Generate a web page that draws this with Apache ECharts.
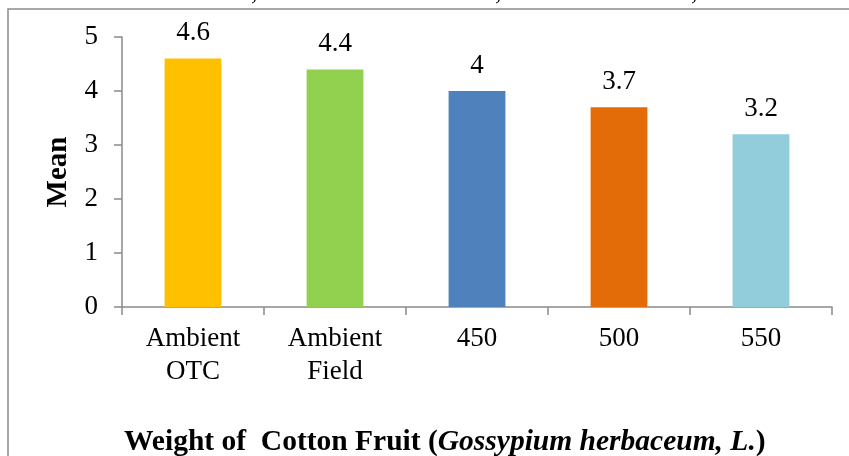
<!DOCTYPE html>
<html>
<head>
<meta charset="utf-8">
<script src="https://cdn.jsdelivr.net/npm/echarts@6/dist/echarts.min.js"></script>
<style>
  html, body { margin: 0; padding: 0; background: #fff; }
  #chart { width: 849px; height: 456px; }
</style>
</head>
<body>
<div id="chart"></div>
<script>
// categories and values
var categories = ['Ambient\nOTC', 'Ambient\nField', '450', '500', '550']
var means = [4.6, 4.4, 4, 3.7, 3.2]
var barColors = ['#FFC000', '#92D050', '#4F81BD', '#E36C09', '#92CDDC']
var yTicks = { min: 0, max: 5, interval: 1 }

var serif = '"Liberation Serif", "Times New Roman", serif'
var axisGray = '#8a8a8a'

var chart = echarts.init(document.getElementById('chart'))

chart.setOption({
  animation: false,
  backgroundColor: '#fff',
  title: {
    text: '{a|Weight of  Cotton Fruit (}{b|Gossypium herbaceum, L.}{a|)}',
    left: 119,
    top: 422,
    textStyle: {
      rich: {
        a: { fontFamily: serif, fontSize: 29.5, fontWeight: 'bold', color: '#000' },
        b: { fontFamily: serif, fontSize: 29.5, fontWeight: 'bold', fontStyle: 'italic', color: '#000' }
      }
    }
  },
  graphic: [
    // frame round the chart, cut off at right and bottom
    { type: 'rect', shape: { x: 8, y: 9, width: 860, height: 470 }, style: { fill: 'none', stroke: '#8c8c8c', lineWidth: 1.5 }, silent: true },
    // ends of the line of text above the frame
    { type: 'text', left: 251, top: -20, style: { text: ',', font: '26px ' + serif, fill: '#000' } },
    { type: 'text', left: 495, top: -20, style: { text: ',', font: '26px ' + serif, fill: '#000' } },
    { type: 'text', left: 691, top: -20, style: { text: ',', font: '26px ' + serif, fill: '#000' } }
  ],
  grid: { left: 122, right: 17, top: 37, bottom: 149 },
  xAxis: {
    type: 'category',
    data: categories,
    axisLine: { lineStyle: { color: axisGray, width: 1.5 } },
    axisTick: { show: true, alignWithLabel: false, length: 8, lineStyle: { color: axisGray, width: 1.5 } },
    axisLabel: { fontFamily: serif, fontSize: 27, color: '#000', lineHeight: 33, margin: 15, interval: 0 }
  },
  yAxis: {
    type: 'value',
    min: yTicks.min,
    max: yTicks.max,
    interval: yTicks.interval,
    name: 'Mean',
    nameLocation: 'middle',
    nameGap: 49,
    nameTextStyle: { fontFamily: serif, fontSize: 29, fontWeight: 'bold', color: '#000' },
    splitLine: { show: false },
    axisLine: { show: true, lineStyle: { color: axisGray, width: 1.5 } },
    axisTick: { show: true, length: 8, lineStyle: { color: axisGray, width: 1.5 } },
    axisLabel: { fontFamily: serif, fontSize: 27, color: '#000', margin: 24 }
  },
  series: [
    {
      type: 'bar',
      barWidth: '40%',
      data: means.map(function (v, i) {
        return { value: v, itemStyle: { color: barColors[i] } }
      }),
      label: {
        show: true,
        position: 'top',
        distance: 12,
        fontFamily: serif,
        fontSize: 27,
        color: '#000'
      }
    }
  ]
})
</script>
</body>
</html>
